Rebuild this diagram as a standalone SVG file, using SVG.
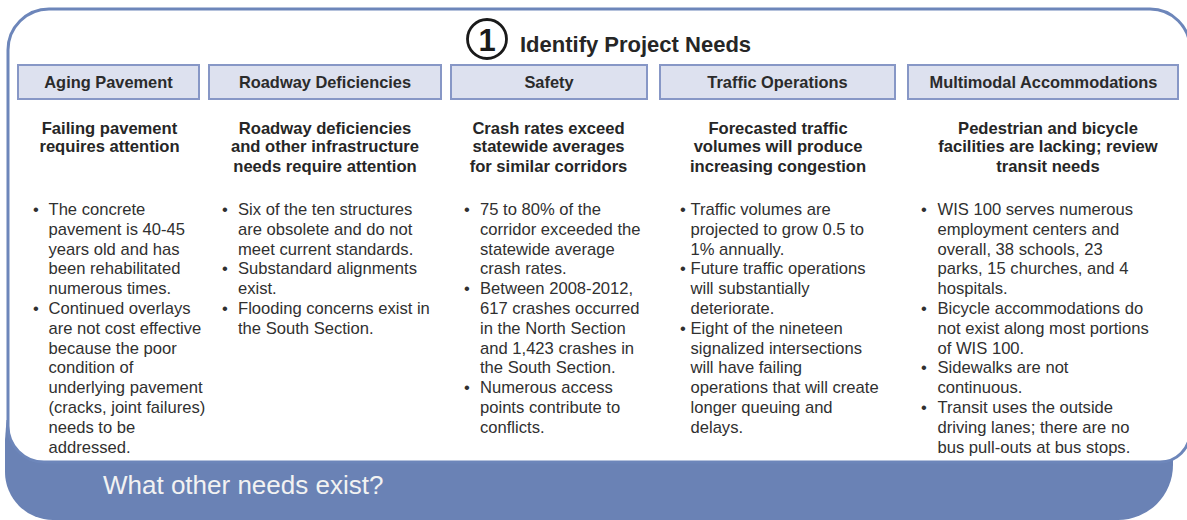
<svg xmlns="http://www.w3.org/2000/svg" width="1187" height="520" viewBox="0 0 1187 520">
<style>
.hdr{fill:#dde1ef;stroke:#8797c6;stroke-width:2}
.ht{font-family:"Liberation Sans",Arial,sans-serif;font-weight:bold;font-size:16.4px;fill:#2b2b2b;text-anchor:middle}
.sub{font-family:"Liberation Sans",Arial,sans-serif;font-weight:bold;font-size:16.6px;fill:#262626;text-anchor:middle}
.body{font-family:"Liberation Sans",Arial,sans-serif;font-size:16.6px;fill:#303030}
.bul{font-family:"Liberation Sans",Arial,sans-serif;font-size:16.6px;fill:#303030}
</style>
<rect width="1187" height="520" fill="#ffffff"/>
<g id="frame">
<path d="M6.5,420 H1173 V465 A55,55 0 0 1 1118,520 H53 A48,48 0 0 1 5,472 V440 Z" fill="#6a82b5"/>
<path d="M8,50 A41,41 0 0 1 49,9 L1150,9 A40,40 0 0 1 1190,49 L1190,432 A30,30 0 0 1 1160,462 L44,462 A36,36 0 0 1 8,426 Z" fill="#ffffff" stroke="#6d86ba" stroke-width="3"/>
</g>
<g id="title">
<circle cx="487" cy="39" r="19.5" fill="none" stroke="#1a1a1a" stroke-width="2.8"/>
<text x="487" y="51" font-family="'Liberation Sans',Arial,sans-serif" font-size="31" font-weight="bold" fill="#1a1a1a" text-anchor="middle">1</text>
<text x="520" y="52" font-family="'Liberation Sans',Arial,sans-serif" font-size="22" font-weight="bold" fill="#262626">Identify Project Needs</text>
</g>
<g id="connectors"/>
<g id="aging-pavement">
<rect class="hdr" x="18" y="65" width="181" height="34"/>
<text class="ht" x="108.5" y="88">Aging Pavement</text>
<text class="sub"><tspan x="109.5" y="134">Failing pavement</tspan><tspan x="109.5" y="152">requires attention</tspan></text>
<text class="bul"><tspan x="33" y="215">•</tspan><tspan x="33" y="314">•</tspan></text>
<text class="body"><tspan x="48.5" y="215">The concrete</tspan><tspan x="48.5" dy="19.8">pavement is 40-45</tspan><tspan x="48.5" dy="19.8">years old and has</tspan><tspan x="48.5" dy="19.8">been rehabilitated</tspan><tspan x="48.5" dy="19.8">numerous times.</tspan><tspan x="48.5" dy="19.8">Continued overlays</tspan><tspan x="48.5" dy="19.8">are not cost effective</tspan><tspan x="48.5" dy="19.8">because the poor</tspan><tspan x="48.5" dy="19.8">condition of</tspan><tspan x="48.5" dy="19.8">underlying pavement</tspan><tspan x="48.5" dy="19.8">(cracks, joint failures)</tspan><tspan x="48.5" dy="19.8">needs to be</tspan><tspan x="48.5" dy="19.8">addressed.</tspan></text>
</g>
<g id="roadway-deficiencies">
<rect class="hdr" x="209" y="65" width="232" height="34"/>
<text class="ht" x="325" y="88">Roadway Deficiencies</text>
<text class="sub"><tspan x="325" y="134">Roadway deficiencies</tspan><tspan x="325" y="152">and other infrastructure</tspan><tspan x="325" y="171.5">needs require attention</tspan></text>
<text class="bul"><tspan x="222" y="215">•</tspan><tspan x="222" y="274.4">•</tspan><tspan x="222" y="314">•</tspan></text>
<text class="body"><tspan x="238" y="215">Six of the ten structures</tspan><tspan x="238" dy="19.8">are obsolete and do not</tspan><tspan x="238" dy="19.8">meet current standards.</tspan><tspan x="238" dy="19.8">Substandard alignments</tspan><tspan x="238" dy="19.8">exist.</tspan><tspan x="238" dy="19.8">Flooding concerns exist in</tspan><tspan x="238" dy="19.8">the South Section.</tspan></text>
</g>
<g id="safety">
<rect class="hdr" x="451" y="65" width="196" height="34"/>
<text class="ht" x="549" y="88">Safety</text>
<text class="sub"><tspan x="548.5" y="134">Crash rates exceed</tspan><tspan x="548.5" y="152">statewide averages</tspan><tspan x="548.5" y="171.5">for similar corridors</tspan></text>
<text class="bul"><tspan x="464" y="215">•</tspan><tspan x="464" y="294.2">•</tspan><tspan x="464" y="393.2">•</tspan></text>
<text class="body"><tspan x="480" y="215">75 to 80% of the</tspan><tspan x="480" dy="19.8">corridor exceeded the</tspan><tspan x="480" dy="19.8">statewide average</tspan><tspan x="480" dy="19.8">crash rates.</tspan><tspan x="480" dy="19.8">Between 2008-2012,</tspan><tspan x="480" dy="19.8">617 crashes occurred</tspan><tspan x="480" dy="19.8">in the North Section</tspan><tspan x="480" dy="19.8">and 1,423 crashes in</tspan><tspan x="480" dy="19.8">the South Section.</tspan><tspan x="480" dy="19.8">Numerous access</tspan><tspan x="480" dy="19.8">points contribute to</tspan><tspan x="480" dy="19.8">conflicts.</tspan></text>
</g>
<g id="traffic-operations">
<rect class="hdr" x="660" y="65" width="235" height="34"/>
<text class="ht" x="777.5" y="88">Traffic Operations</text>
<text class="sub"><tspan x="778" y="134">Forecasted traffic</tspan><tspan x="778" y="152">volumes will produce</tspan><tspan x="778" y="171.5">increasing congestion</tspan></text>
<text class="bul"><tspan x="680" y="215">•</tspan><tspan x="680" y="274.4">•</tspan><tspan x="680" y="333.8">•</tspan></text>
<text class="body"><tspan x="690.5" y="215">Traffic volumes are</tspan><tspan x="690.5" dy="19.8">projected to grow 0.5 to</tspan><tspan x="690.5" dy="19.8">1% annually.</tspan><tspan x="690.5" dy="19.8">Future traffic operations</tspan><tspan x="690.5" dy="19.8">will substantially</tspan><tspan x="690.5" dy="19.8">deteriorate.</tspan><tspan x="690.5" dy="19.8">Eight of the nineteen</tspan><tspan x="690.5" dy="19.8">signalized intersections</tspan><tspan x="690.5" dy="19.8">will have failing</tspan><tspan x="690.5" dy="19.8">operations that will create</tspan><tspan x="690.5" dy="19.8">longer queuing and</tspan><tspan x="690.5" dy="19.8">delays.</tspan></text>
</g>
<g id="multimodal-accommodations">
<rect class="hdr" x="908" y="65" width="270" height="34"/>
<text class="ht" x="1043.5" y="88">Multimodal Accommodations</text>
<text class="sub"><tspan x="1048" y="134">Pedestrian and bicycle</tspan><tspan x="1048" y="152">facilities are lacking; review</tspan><tspan x="1048" y="171.5">transit needs</tspan></text>
<text class="bul"><tspan x="921" y="215">•</tspan><tspan x="921" y="314">•</tspan><tspan x="921" y="373.4">•</tspan><tspan x="921" y="413">•</tspan></text>
<text class="body"><tspan x="937.5" y="215">WIS 100 serves numerous</tspan><tspan x="937.5" dy="19.8">employment centers and</tspan><tspan x="937.5" dy="19.8">overall, 38 schools, 23</tspan><tspan x="937.5" dy="19.8">parks, 15 churches, and 4</tspan><tspan x="937.5" dy="19.8">hospitals.</tspan><tspan x="937.5" dy="19.8">Bicycle accommodations do</tspan><tspan x="937.5" dy="19.8">not exist along most portions</tspan><tspan x="937.5" dy="19.8">of WIS 100.</tspan><tspan x="937.5" dy="19.8">Sidewalks are not</tspan><tspan x="937.5" dy="19.8">continuous.</tspan><tspan x="937.5" dy="19.8">Transit uses the outside</tspan><tspan x="937.5" dy="19.8">driving lanes; there are no</tspan><tspan x="937.5" dy="19.8">bus pull-outs at bus stops.</tspan></text>
</g>
<g id="footer">
<text x="103" y="494" font-family="'Liberation Sans',Arial,sans-serif" font-size="26" fill="#f2f2f2">What other needs exist?</text>
</g>
</svg>
